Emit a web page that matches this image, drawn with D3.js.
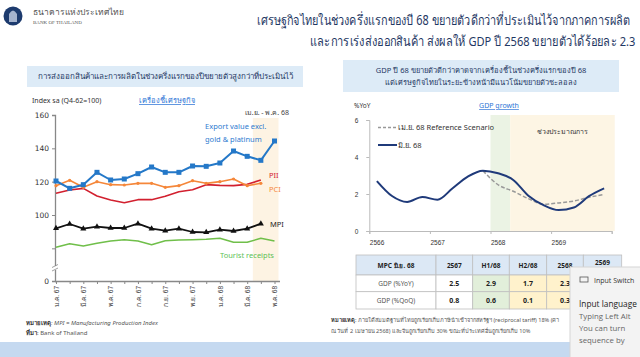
<!DOCTYPE html>
<html><head><meta charset="utf-8">
<script src="https://cdn.jsdelivr.net/npm/d3@7"></script>
<style>
body{margin:0;background:#fff;}
svg{display:block;font-family:Tahoma,"Noto Sans","DejaVu Sans",sans-serif;}
</style>
</head><body>
<svg id="c" width="640" height="357"></svg>
<script>
// ---------- DATA ----------
const months = ["ม.ค. 67","ก.พ. 67","มี.ค. 67","เม.ย. 67","พ.ค. 67","มิ.ย. 67","ก.ค. 67","ส.ค. 67","ก.ย. 67","ต.ค. 67","พ.ย. 67","ธ.ค. 67","ม.ค. 68","ก.พ. 68","มี.ค. 68","เม.ย. 68","พ.ค. 68"];
const monthLabels = ["ม.ค. 67","มี.ค. 67","พ.ค. 67","ก.ค. 67","ก.ย. 67","พ.ย. 67","ม.ค. 68","มี.ค. 68","พ.ค. 68"];
const exportValue = [120.4,116.0,118.2,125.6,121.0,121.6,124.8,128.8,125.6,125.6,129.4,129.2,131.2,138.4,135.2,132.8,144.4];
const pci = [117.6,120.8,116.6,120.0,118.2,118.0,119.0,119.0,116.6,117.6,120.6,119.0,120.0,121.6,117.6,119.0];
const pii = [113.0,115.0,116.0,111.4,109.0,107.4,109.2,109.2,111.2,114.0,115.2,118.2,117.8,117.6,118.4,121.0];
const mpi = [92.0,94.6,91.8,93.0,92.2,92.2,94.8,91.8,90.6,91.8,89.8,89.6,91.2,90.4,91.8,94.8];
const tourist = [80.6,82.8,81.4,83.0,84.4,85.2,84.4,82.2,84.6,85.0,85.2,85.4,86.0,83.6,83.6,86.0,84.4];
const leftTicks = [0,80,100,120,140,160];

const quarters = ["Q1/66","Q2/66","Q3/66","Q4/66","Q1/67","Q2/67","Q3/67","Q4/67","Q1/68","Q2/68","Q3/68","Q4/68","Q1/69","Q2/69","Q3/69","Q4/69"];
const years = ["2566","2567","2568","2569"];
const gdpJun = [2.70,1.89,1.57,1.84,1.69,2.31,2.94,3.26,3.12,2.76,1.91,1.40,1.13,1.27,1.88,2.30];
const gdpApr = [null,null,null,null,null,null,null,3.26,2.50,2.15,1.75,1.45,1.52,1.62,1.82,1.97];
const rightTicks = [0,2,4,6];

const tableHeader = ["MPC มิ.ย. 68","2567","H1/68","H2/68","2568","2569"];
const rowYoY = ["GDP (%YoY)","2.5","2.9","1.7","2.3",""];   // 2569 value hidden in reference
const rowQoQ = ["GDP (%QoQ)","0.8","0.6","0.1","0.3",""];

// ---------- DRAW ----------
const svg = d3.select("#c");
const navy = "#1f3864";

// logo
svg.append("circle").attr("cx",13).attr("cy",16).attr("r",9.5).attr("fill","#1d3b6e");
svg.append("path").attr("d","M9,22 L9,14 Q13,7 17,14 L17,22 Z").attr("fill","#c8d3e6").attr("opacity",0.8);
svg.append("text").attr("x",33).attr("y",15).attr("font-size",8.5).attr("fill","#555").text("ธนาคารแห่งประเทศไทย");
svg.append("text").attr("x",33).attr("y",23.5).attr("font-size",5).attr("fill","#555").attr("font-family","'Liberation Serif',serif").text("BANK OF THAILAND");

// title (scaled horizontally to the reference width)
function fitTitle(txt, xRight, y, width){
  const g = svg.append("g");
  const t = g.append("text").attr("x",0).attr("y",0).attr("font-size",13.5).attr("fill",navy).text(txt);
  const w = t.node().getComputedTextLength();
  const s = width / w;
  g.attr("transform",`translate(${xRight - width},${y}) scale(${s},1)`);
}
fitTitle("เศรษฐกิจไทยในช่วงครึ่งแรกของปี 68 ขยายตัวดีกว่าที่ประเมินไว้จากภาคการผลิต", 637, 25, 380);
fitTitle("และการเร่งส่งออกสินค้า ส่งผลให้ GDP ปี 2568 ขยายตัวได้ร้อยละ 2.3", 637, 46, 327);

// ===== LEFT PANEL =====
svg.append("rect").attr("x",27).attr("y",66).attr("width",276).attr("height",21).attr("fill","#ddebf7");
svg.append("text").attr("x",165).attr("y",79).attr("text-anchor","middle").attr("font-size",8).attr("fill",navy)
  .text("การส่งออกสินค้าและการผลิตในช่วงครึ่งแรกของปีขยายตัวสูงกว่าที่ประเมินไว้");
svg.append("text").attr("x",32).attr("y",103).attr("font-size",7).attr("fill","#333").text("Index sa (Q4-62=100)");
svg.append("text").attr("x",167).attr("y",103).attr("text-anchor","middle").attr("font-size",7.5)
  .attr("fill","#2e75d6").attr("text-decoration","underline").text("เครื่องชี้เศรษฐกิจ");

const xL = d3.scalePoint().domain(months).range([56,274.5]);
const yL = d3.scaleLinear().domain([0,70,160]).range([281,265,115]);

// shading
svg.append("rect").attr("x",xL(months[15])-8).attr("y",118).attr("width",xL(months[16])-xL(months[15])+12)
  .attr("height",yL(0)-118).attr("fill","#fdf3e3");
svg.append("text").attr("x",289).attr("y",115).attr("text-anchor","end").attr("font-size",7).attr("fill","#444").text("เม.ย. - พ.ค. 68");

// axes
const yAxL = svg.append("g").attr("transform","translate(55,0)")
  .call(d3.axisLeft(yL).tickValues(leftTicks).tickSize(3).tickFormat(d=>d===80?"":d));
yAxL.select(".domain").attr("stroke","#888").attr("stroke-width",1.3);
yAxL.selectAll(".tick line").attr("stroke","#888");
yAxL.selectAll(".tick text").attr("font-size",7.5).attr("fill","#333").attr("font-family","Tahoma,'DejaVu Sans',sans-serif");
// axis break
svg.append("rect").attr("x",52).attr("y",266).attr("width",6).attr("height",4).attr("fill","#fff");
[265.5,269].forEach(yy=>svg.append("line").attr("x1",52).attr("y1",yy+2).attr("x2",58).attr("y2",yy-1).attr("stroke","#888").attr("stroke-width",0.8));

const xAxL = svg.append("g").attr("transform",`translate(0,${yL(0)})`)
  .call(d3.axisBottom(xL).tickSize(3).tickFormat(d=>monthLabels.includes(d)?d:""));
xAxL.select(".domain").attr("d","M55,0.5H280").attr("stroke","#888").attr("stroke-width",1.3);
xAxL.selectAll(".tick line").attr("stroke","#888");
xAxL.selectAll(".tick text").attr("font-size",6.5).attr("fill","#333")
  .attr("transform","rotate(-90)").attr("text-anchor","end").attr("x",-5).attr("y",0).attr("dy","0.35em");

const lineL = d3.line().x((d,i)=>xL(months[i])).y(d=>yL(d));
function series(data,color,w){
  svg.append("path").datum(data).attr("d",lineL).attr("fill","none").attr("stroke",color).attr("stroke-width",w).attr("stroke-linejoin","round");
}
series(tourist,"#70bf4a",1.5);
series(pii,"#d2202f",1.6);
series(pci,"#f5873a",1.6);
svg.selectAll(".pcim").data(pci).enter().append("circle").attr("cx",(d,i)=>xL(months[i])).attr("cy",d=>yL(d)).attr("r",1.6).attr("fill","#f5873a");
series(mpi,"#111",1.8);
svg.selectAll(".mpim").data(mpi).enter().append("path")
  .attr("d",d3.symbol().type(d3.symbolTriangle).size(16))
  .attr("transform",(d,i)=>`translate(${xL(months[i])},${yL(d)})`).attr("fill","#111");
series(exportValue,"#2478c8",2);
svg.selectAll(".expm").data(exportValue).enter().append("rect")
  .attr("x",(d,i)=>xL(months[i])-2.5).attr("y",d=>yL(d)-2.5).attr("width",5).attr("height",5).attr("fill","#2478c8");

// labels
svg.append("text").attr("x",205).attr("y",129).attr("font-size",7.5).attr("fill","#2e7bd0").text("Export value excl.");
svg.append("text").attr("x",205).attr("y",142).attr("font-size",7.5).attr("fill","#2e7bd0").text("gold & platinum");
svg.append("text").attr("x",269).attr("y",178).attr("font-size",7.5).attr("fill","#d2202f").text("PII");
svg.append("text").attr("x",269).attr("y",192).attr("font-size",7.5).attr("fill","#f5873a").text("PCI");
svg.append("text").attr("x",270).attr("y",227).attr("font-size",7.5).attr("fill","#222").text("MPI");
svg.append("text").attr("x",220).attr("y",258).attr("font-size",7.5).attr("fill","#5cbf55").text("Tourist receipts");

// left footnotes
const fn1 = svg.append("text").attr("x",26).attr("y",325).attr("font-size",6).attr("fill","#555");
fn1.append("tspan").attr("font-weight","bold").attr("fill","#333").text("หมายเหตุ");
fn1.append("tspan").attr("font-style","italic").text(": MPI = Manufacturing Production Index");
const fn2 = svg.append("text").attr("x",26).attr("y",335).attr("font-size",6).attr("fill","#555");
fn2.append("tspan").attr("font-weight","bold").attr("fill","#333").text("ที่มา");
fn2.append("tspan").text(": Bank of Thailand");

// ===== RIGHT PANEL =====
svg.append("rect").attr("x",343).attr("y",60).attr("width",276).attr("height",32).attr("fill","#ddebf7");
svg.append("text").attr("x",481).attr("y",73).attr("text-anchor","middle").attr("font-size",7.5).attr("fill",navy)
  .text("GDP ปี 68 ขยายตัวดีกว่าคาดจากเครื่องชี้ในช่วงครึ่งแรกของปี 68");
svg.append("text").attr("x",481).attr("y",85).attr("text-anchor","middle").attr("font-size",7.5).attr("fill",navy)
  .text("แต่เศรษฐกิจไทยในระยะข้างหน้ามีแนวโน้มขยายตัวชะลอลง");
svg.append("text").attr("x",354).attr("y",108).attr("font-size",6.5).attr("fill","#333").text("%YoY");
svg.append("text").attr("x",499).attr("y",108).attr("text-anchor","middle").attr("font-size",7)
  .attr("fill","#2e75d6").attr("text-decoration","underline").text("GDP growth");

const xR = d3.scaleLinear().domain([0,16]).range([369.3,611.7]);
const yR = d3.scaleLinear().domain([0,6]).range([231,120]);

svg.append("rect").attr("x",xR(8)).attr("y",115).attr("width",xR(9.3)-xR(8)).attr("height",yR(0)-115).attr("fill","#ebf3e4");
svg.append("rect").attr("x",xR(9.3)).attr("y",115).attr("width",xR(16.2)-xR(9.3)).attr("height",yR(0)-115).attr("fill","#fdf5e4");
svg.append("text").attr("x",562).attr("y",134).attr("text-anchor","middle").attr("font-size",7).attr("fill","#333").text("ช่วงประมาณการ");

const yAxR = svg.append("g").attr("transform","translate(369.3,0)")
  .call(d3.axisLeft(yR).tickValues(rightTicks).tickSize(3).tickFormat(d3.format("d")));
yAxR.select(".domain").attr("stroke","#bbb");
yAxR.selectAll(".tick line").attr("stroke","#bbb");
yAxR.selectAll(".tick text").attr("font-size",6.5).attr("fill","#333").attr("dx","-5");

const xAxR = svg.append("g").attr("transform",`translate(0,${yR(0)})`)
  .call(d3.axisBottom(xR).tickValues([0,4,8,12,16]).tickSize(3).tickFormat(d=>years[d/4]||""));
xAxR.select(".domain").attr("stroke","#bbb");
xAxR.selectAll(".tick line").attr("stroke","#bbb");
xAxR.selectAll(".tick text").attr("font-size",6.5).attr("fill","#333").attr("text-anchor","start").attr("dy","1.3em");

const lineR = d3.line().defined(d=>d!=null).x((d,i)=>xR(i+0.5)).y(d=>yR(d)).curve(d3.curveMonotoneX);
svg.append("path").datum(gdpApr).attr("d",lineR).attr("fill","none").attr("stroke","#999").attr("stroke-width",1.5).attr("stroke-dasharray","4,2");
svg.append("path").datum(gdpJun).attr("d",lineR).attr("fill","none").attr("stroke","#1f3a7a").attr("stroke-width",2);

// legend
svg.append("line").attr("x1",378).attr("x2",397).attr("y1",127.5).attr("y2",127.5).attr("stroke","#999").attr("stroke-width",1.3).attr("stroke-dasharray","3,2");
svg.append("text").attr("x",398).attr("y",130).attr("font-size",7.5).attr("fill","#333").text("เม.ย. 68 Reference Scenario");
svg.append("line").attr("x1",378).attr("x2",397).attr("y1",145).attr("y2",145).attr("stroke","#1f3a7a").attr("stroke-width",2);
svg.append("text").attr("x",398).attr("y",147.5).attr("font-size",7.5).attr("fill","#333").text("มิ.ย. 68");

// table
const colX = [356,436,472.7,509.3,546.7,583.3,621.7];
const rowY = [255,275,291.7,309];
const rows = [tableHeader,rowYoY,rowQoQ];
const fills = [["#dce8f5","#dce8f5","#dce8f5","#dce8f5","#dce8f5","#dce8f5"],
               ["#fff","#fff","#e2efda","#fff2cc","#fff2cc","#fff2cc"],
               ["#fff","#fff","#e2efda","#fff2cc","#fff2cc","#fff2cc"]];
rows.forEach((r,ri)=>{
  r.forEach((v,ci)=>{
    svg.append("rect").attr("x",colX[ci]).attr("y",rowY[ri]).attr("width",colX[ci+1]-colX[ci]).attr("height",rowY[ri+1]-rowY[ri])
      .attr("fill",fills[ri][ci]).attr("stroke","#bfbfbf").attr("stroke-width",0.8);
    if(v!=="") svg.append("text").attr("x",(colX[ci]+colX[ci+1])/2).attr("y",(rowY[ri]+rowY[ri+1])/2+(ri===0&&ci===5?0:2.5))
      .attr("text-anchor","middle").attr("font-size",ri===0?6.5:(ci===0?6.5:7))
      .attr("font-weight",(ri===0||ci>0)?"bold":"normal")
      .attr("fill",ri===0?"#222":(ci===0?"#555":"#222")).text(v);
  });
});

// right footnote (right end hidden by the popup in the reference)
const rn1 = svg.append("text").attr("x",331).attr("y",322).attr("font-size",5.6).attr("fill","#555");
rn1.append("tspan").attr("font-weight","bold").attr("fill","#333").text("หมายเหตุ");
rn1.append("tspan").text(": ภายใต้สมมติฐานที่ไทยถูกเรียกเก็บภาษีนำเข้าจากสหรัฐฯ (reciprocal tariff) 18% (ค่า");
svg.append("text").attr("x",331).attr("y",333).attr("font-size",5.6).attr("fill","#555")
  .text("ณ วันที่ 2 เมษายน 2568) และจีนถูกเรียกเก็บ 30% ขณะที่ประเทศอื่นถูกเรียกเก็บ 10%");

// bottom band
svg.append("rect").attr("x",0).attr("y",342).attr("width",640).attr("height",15).attr("fill","#c5d9f0");

// popup overlay (as in reference screenshot)
const pop = svg.append("g").attr("font-family","'Open Sans',sans-serif");
pop.append("rect").attr("x",570).attr("y",267).attr("width",80).attr("height",100).attr("fill","#f3f3f3").attr("stroke","#d6d6d6");
pop.append("rect").attr("x",580).attr("y",277).attr("width",8).attr("height",5).attr("fill","none").attr("stroke","#555").attr("stroke-width",0.8);
pop.append("text").attr("x",594).attr("y",283).attr("font-size",7).attr("fill","#333").text("Input Switch");
pop.append("text").attr("x",579).attr("y",307).attr("font-size",8.3).attr("fill","#222").text("Input language");
pop.append("text").attr("x",579).attr("y",319).attr("font-size",7.8).attr("fill","#666").text("Typing Left Alt");
pop.append("text").attr("x",579).attr("y",331).attr("font-size",7.8).attr("fill","#666").text("You can turn");
pop.append("text").attr("x",579).attr("y",343).attr("font-size",7.8).attr("fill","#666").text("sequence by");
</script>
</body></html>
